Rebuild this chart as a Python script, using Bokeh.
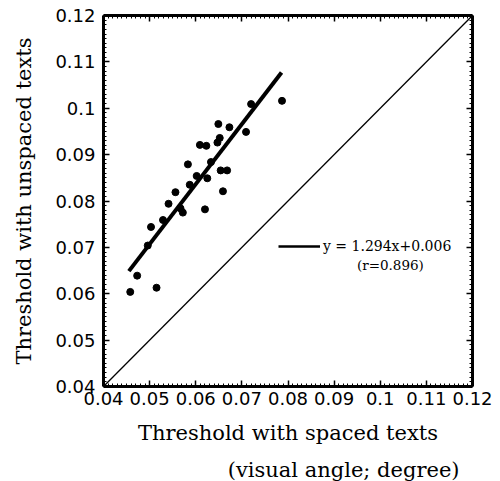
from bokeh.plotting import figure
from bokeh.models import (FixedTicker, LinearAxis, Range1d, Title, Legend,
                          LegendItem, Label)
from bokeh.embed import file_html
from bokeh.resources import INLINE

# ---- data ----
spaced = [0.0458, 0.0473, 0.0515, 0.0496, 0.0503, 0.0529, 0.0541, 0.0556,
          0.0567, 0.0572, 0.0583, 0.0587, 0.0602, 0.0609, 0.0620, 0.0623,
          0.0625, 0.0633, 0.0649, 0.0647, 0.0652, 0.0654, 0.0659, 0.0668,
          0.0673, 0.0709, 0.0720, 0.0787]
unspaced = [0.0604, 0.0639, 0.0613, 0.0704, 0.0744, 0.0759, 0.0794, 0.0819,
            0.0784, 0.0775, 0.0879, 0.0835, 0.0854, 0.0921, 0.0782, 0.0919,
            0.0849, 0.0884, 0.0966, 0.0926, 0.0936, 0.0866, 0.0821, 0.0866,
            0.0959, 0.0949, 0.1009, 0.1016]

slope = 1.294
intercept = 0.006
r_value = 0.896
fit_x = [0.0455, 0.0786]
identity_x = [0.04, 0.12]

tick_values = [0.04, 0.05, 0.06, 0.07, 0.08, 0.09, 0.10, 0.11, 0.12]
tick_labels = ["0.04", "0.05", "0.06", "0.07", "0.08", "0.09", "0.1", "0.11", "0.12"]
minor_tick_values = [round(0.04 + 0.001 * i, 3) for i in range(81)]

x_title = "Threshold with spaced texts"
x_title2 = "(visual angle; degree)"
y_title = "Threshold with unspaced texts"

fit_y = [slope * v + intercept for v in fit_x]
fit_label = "y = %.3fx+%.3f" % (slope, intercept)
r_label = "(r=%.3f)" % r_value

p = figure(width=500, height=481,
           x_range=Range1d(identity_x[0], identity_x[1]),
           y_range=Range1d(identity_x[0], identity_x[1]),
           x_axis_type=None, y_axis_type=None,
           output_backend="svg", toolbar_location=None,
           min_border_left=103, min_border_right=28,
           min_border_top=15, min_border_bottom=94)
p.grid.visible = False
p.outline_line_color = None
p.background_fill_color = "white"
p.border_fill_color = "white"

bottom_axis = LinearAxis()
left_axis = LinearAxis()
top_axis = LinearAxis()
right_axis = LinearAxis()
p.add_layout(bottom_axis, "below")
p.add_layout(left_axis, "left")
p.add_layout(top_axis, "above")
p.add_layout(right_axis, "right")

overrides = {v: s for v, s in zip(tick_values, tick_labels)}
blank = {v: "" for v in tick_values}
for ax in [bottom_axis, left_axis, top_axis, right_axis]:
    ax.ticker = FixedTicker(ticks=tick_values, minor_ticks=minor_tick_values)
    ax.axis_line_width = 3
    ax.axis_line_color = "black"
    ax.major_tick_in = 6
    ax.major_tick_out = 0
    ax.major_tick_line_width = 1.5
    ax.major_tick_line_color = "black"
    ax.minor_tick_in = 3
    ax.minor_tick_out = 0
    ax.minor_tick_line_width = 1
    ax.minor_tick_line_color = "black"
    ax.major_label_text_font = "DejaVu Sans"
    ax.major_label_text_font_size = "18px"
    ax.major_label_text_color = "black"

for ax in [bottom_axis, left_axis]:
    ax.major_label_overrides = overrides
for ax in [top_axis, right_axis]:
    ax.major_label_overrides = blank
    ax.major_label_standoff = 0

bottom_axis.major_label_standoff = 5
left_axis.major_label_standoff = 8

left_axis.axis_label = y_title
left_axis.axis_label_text_font = "DejaVu Serif"
left_axis.axis_label_text_font_size = "21px"
left_axis.axis_label_text_font_style = "normal"
left_axis.axis_label_text_color = "black"
left_axis.axis_label_standoff = 16

t1 = Title(text=x_title, align="center", offset=-7,
           text_font="DejaVu Serif", text_font_size="21px",
           text_font_style="normal", text_color="black", standoff=22)
p.add_layout(t1, "below")
t2 = Title(text=x_title2, align="right", offset=13,
           text_font="DejaVu Serif", text_font_size="21px",
           text_font_style="normal", text_color="black", standoff=0)
p.add_layout(t2, "below")

# identity line
p.line(identity_x, identity_x, line_width=1.3, color="black")
# regression line
p.line(fit_x, fit_y, line_width=4, color="black")
# points
p.scatter(spaced, unspaced, size=7, color="black")

# legend (sample line drawn through a renderer with no visible data)
legend_line = p.line([float("nan")], [float("nan")], line_width=2.5, color="black")
legend = Legend(items=[LegendItem(label=fit_label, renderers=[legend_line])],
                location=(175, 132), glyph_width=42, glyph_height=14,
                label_height=14, label_standoff=3, padding=0, margin=0,
                spacing=0, border_line_color=None, background_fill_alpha=0,
                label_text_font="DejaVu Serif", label_text_font_size="14px",
                label_text_color="black")
p.add_layout(legend)

p.add_layout(Label(x=0.1022, y=0.0662, text=r_label, text_align="center",
                   text_baseline="middle", text_font="DejaVu Serif",
                   text_font_size="13.5px", text_color="black"))

open("out.html", "w").write(file_html(p, INLINE))
